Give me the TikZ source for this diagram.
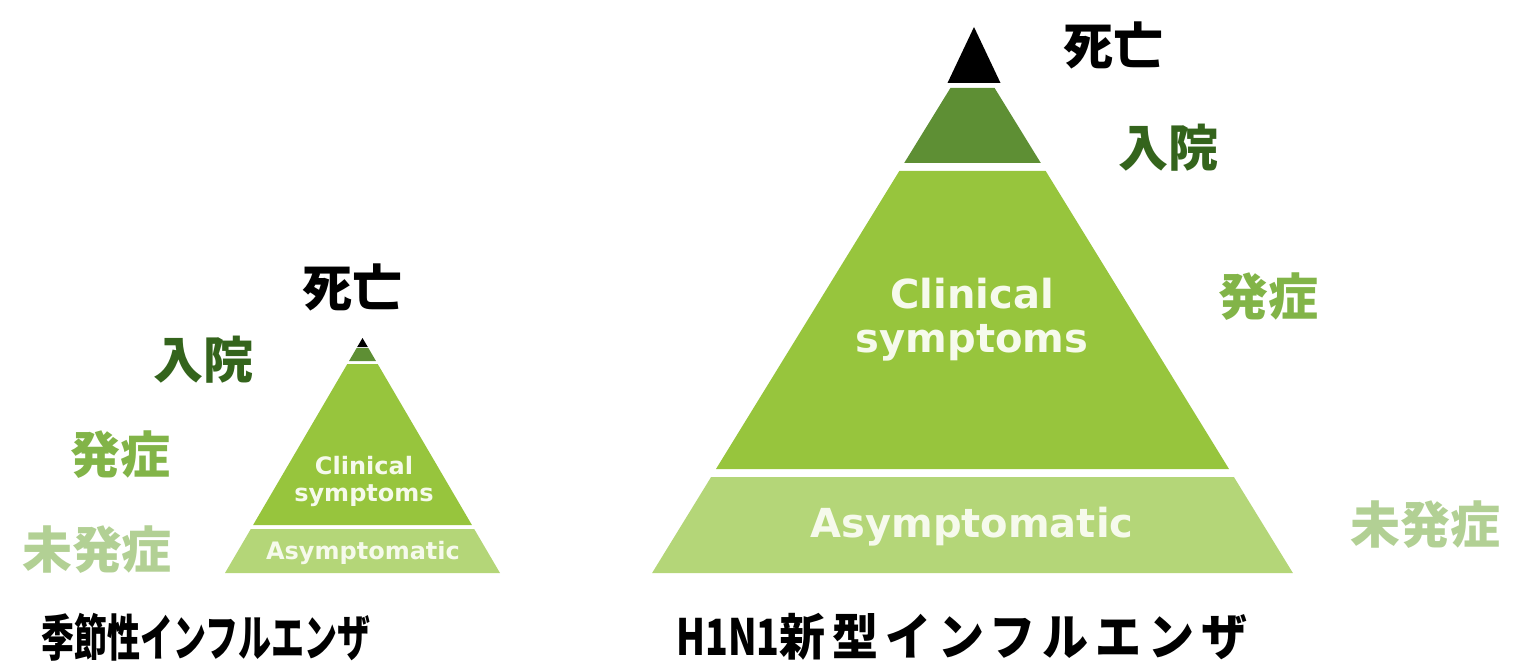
\documentclass[tikz,border=0pt]{standalone}
\usepackage{fontspec}
\usepackage{graphicx}
\setmainfont{DejaVu Sans}
\newfontfamily\jpfont{Noto Sans CJK JP}
\definecolor{tipgreen}{RGB}{94,143,52}
\definecolor{midgreen}{RGB}{151,197,61}
\definecolor{palegreen}{RGB}{180,214,120}
\definecolor{hospgreen}{RGB}{52,100,28}
\definecolor{onsetgreen}{RGB}{130,180,72}
\definecolor{nosymgreen}{RGB}{178,208,148}
\definecolor{bandtext}{RGB}{246,250,236}
\tikzset{
  jplabel/.style={font=\jpfont\bfseries\fontsize{50}{50}\selectfont, inner sep=0pt},
  bandlabel/.style={text=bandtext, font=\bfseries\fontsize{40}{44}\selectfont, align=center, inner sep=0pt},
  smallband/.style={text=bandtext, font=\bfseries\fontsize{24}{27}\selectfont, align=center, inner sep=0pt},
  caption/.style={font=\jpfont\bfseries\fontsize{50}{50}\selectfont, inner sep=0pt},
}
\begin{document}
\begin{tikzpicture}[x=1pt,y=-1pt]
  \useasboundingbox (0,0) rectangle (1521,663);
  \fill (362.5,338) -- (367.8,347) -- (357.2,347) -- cycle;
  \fill[tipgreen] (356.65,348) -- (368.35,348) -- (375.95,361) -- (349.05,361) -- cycle;
  \fill[midgreen] (347.3,364) -- (377.7,364) -- (471.9,525) -- (253.1,525) -- cycle;
  \fill[palegreen] (250.8,529) -- (474.2,529) -- (500,573) -- (225,573) -- cycle;
  \fill (974,27) -- (1000.5,83) -- (947.5,83) -- cycle;
  \fill[tipgreen] (950.4,88) -- (994.6,88) -- (1040.8,163) -- (904.2,163) -- cycle;
  \fill[midgreen] (899.3,171) -- (1045.7,171) -- (1229,469) -- (716,469) -- cycle;
  \fill[palegreen] (711.1,477) -- (1233.9,477) -- (1292.9,573) -- (652.1,573) -- cycle;
  \draw
    (352,287) node[jplabel] (smalldeath) {死亡}
    (203,360) node[jplabel, text=hospgreen] (smallhosp) {入院}
    (120,455) node[jplabel, text=onsetgreen] (smallonset) {発症}
    (97,550) node[jplabel, text=nosymgreen] (smallnosym) {未発症}
    (364,481) node[smallband] (smallclin) {Clinical\\symptoms}
    (363,553) node[smallband] (smallasym) {Asymptomatic};
  \draw
    (1113,45) node[jplabel] (bigdeath) {死亡}
    (1168,148) node[jplabel, text=hospgreen] (bighosp) {入院}
    (1268,297) node[jplabel, text=onsetgreen] (bigonset) {発症}
    (1425,525) node[jplabel, text=nosymgreen] (bignosym) {未発症}
    (972,320) node[bandlabel] (bigclin) {Clinical\\symptoms}
    (972,527) node[bandlabel] (bigasym) {Asymptomatic};
  \draw
    (206,637) node[caption] (seasonal) {\scalebox{0.66}[1]{季節性インフルエンザ}}
    (676,637) node[caption, anchor=west] (pandemic) {\scalebox{0.75}[1]{H1N1}\scalebox{0.92}[1]{\addfontfeature{LetterSpace=15}新型インフルエンザ}};
\end{tikzpicture}
\end{document}
